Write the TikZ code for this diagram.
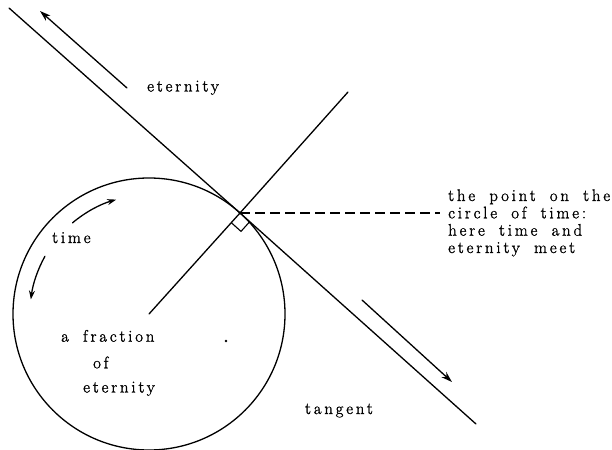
\documentclass[tikz,border=0pt]{standalone}
\usepackage{fontspec}
\newfontfamily\lblfont{Latin Modern Roman}[FakeBold=1.4,LetterSpace=17,WordSpace=1.8]
\usetikzlibrary{arrows.meta}
\begin{document}
\begin{tikzpicture}[x=1bp,y=-1bp,
  line/.style={line width=1.3bp, line cap=round},
  lbl/.style={inner sep=0pt, font=\lblfont\fontsize{16.8}{17.4}\selectfont},
  bigarr/.style={line, -{Stealth[length=11bp,width=7bp]}},
  smallarr/.style={line, -{Stealth[length=9bp,width=6bp]}}]
\useasboundingbox (0,0) rectangle (612,450);
% key points
\coordinate (O) at (149,314);
\coordinate (T) at (240,213);
\coordinate (A) at (9,8);
\coordinate (B) at (476,424);
\coordinate (R) at (348,92);
\coordinate (D) at (440,213);
\coordinate (Q1) at (231.3,222.7);
\coordinate (Q2) at (241,231.4);
\coordinate (Q3) at (249.7,221.7);
\coordinate (U1) at (127,88);
\coordinate (U2) at (40,11);
\coordinate (L1) at (362,300);
\coordinate (L2) at (452,382);
% circle of time
\draw[line] (O) circle[radius=136];
% tangent
\draw[line] (A) -- (T) -- (B);
% radius line
\draw[line] (O) -- (T) -- (R);
% dashed pointer
\draw[line, line cap=butt, dash pattern=on 10bp off 5bp] (T) -- (D);
% right angle mark
\draw[line width=1.1bp] (Q1) -- (Q2) -- (Q3);
% arrows along tangent
\draw[bigarr] (U1) -- (U2);
\draw[bigarr] (L1) -- (L2);
% arrows along circle
\draw[smallarr] ([shift={(-130:119)}]O) arc[start angle=-130, end angle=-106, radius=119];
\draw[smallarr] ([shift={(-151:119)}]O) arc[start angle=-151, end angle=-173, radius=119];
% centre dot
\fill (226,341) circle[radius=1.4];
% labels
\node[lbl, anchor=base west] (eternity) at (147,91.5) {eternity};
\node[lbl, anchor=base west] (time) at (52,243) {time};
\node[lbl, anchor=base west] (frac) at (61,341.7) {a fraction};
\node[lbl, anchor=base west] (of) at (93,368.3) {of};
\node[lbl, anchor=base west] (eternity2) at (83,392.5) {eternity};
\node[lbl, anchor=base east] (tangent) at (373,414) {tangent};
\node[lbl, anchor=base west, align=left] (point) at (448,253) {the point on the\\circle of time:\\here time and\\eternity meet};
\end{tikzpicture}
\end{document}
